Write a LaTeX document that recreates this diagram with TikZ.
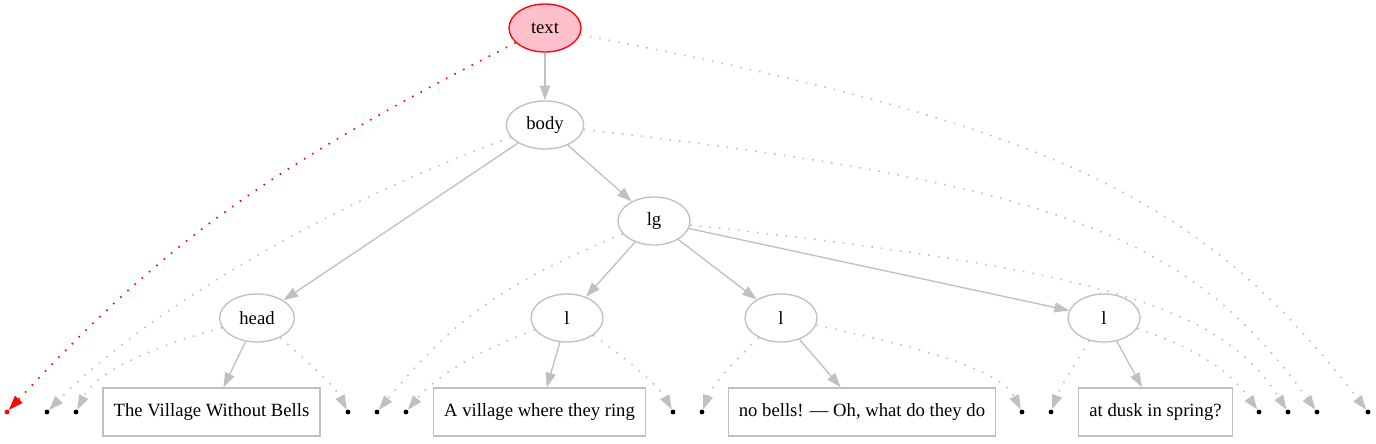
\documentclass[tikz,border=0pt]{standalone}
\usepackage{fontspec}
\setmainfont{Liberation Serif}
\usetikzlibrary{arrows.meta,shapes.geometric}
\definecolor{silver}{HTML}{C0C0C0}
\definecolor{rosy}{HTML}{FFC0CB}
\begin{document}
\begin{tikzpicture}[x=0.75pt, y=-0.75pt,
    every node/.style={font=\fontsize{14}{16}\selectfont},
    elem/.style={ellipse, draw=silver, line width=1pt, minimum width=54pt, minimum height=36pt, inner sep=0pt},
    leaf/.style={rectangle, draw=silver, line width=1pt, minimum height=36pt, inner xsep=8pt},
    spot/.style={circle, fill=black, inner sep=0pt, minimum size=3.6pt},
    branch/.style={draw=silver, line width=1pt, -{Triangle[length=11pt, width=7.5pt]}},
    extent/.style={branch, line width=1.2pt, dash pattern=on 1.2pt off 6pt}]
    \useasboundingbox (0, 0) rectangle (1376, 443);
    \node[elem, fill=rosy, draw=red] (text) at (545, 28) {text};
    \node[elem, minimum width=58pt] (body) at (545, 125) {body};
    \node[elem] (lg) at (654, 221) {lg};
    \node[elem, minimum width=56pt] (head) at (257, 318) {head};
    \node[elem] (la) at (567, 318) {l};
    \node[elem] (lb) at (781, 318) {l};
    \node[elem] (lc) at (1104, 318) {l};
    \node[leaf] (ta) at (211.5, 412) {The Village Without Bells};
    \node[leaf] (tb) at (539.5, 412) {A village where they ring};
    \node[leaf] (tc) at (862, 412) {no bells! — Oh, what do they do};
    \node[leaf] (td) at (1155.5, 412) {at dusk in spring?};
    \node[spot, fill=red] (p1) at (7, 412) {};
    \foreach \n/\x in {2/47, 3/76, 4/348, 5/377, 6/406, 7/673, 8/702, 9/1022, 10/1051, 11/1259, 12/1288, 13/1317, 14/1368}
        \node[spot] (p\n) at (\x, 412) {};
    \draw[branch] (text) -- (body);
    \draw[branch] (body) -- (head);
    \draw[branch] (body) -- (lg);
    \draw[branch] (lg) -- (la);
    \draw[branch] (lg) -- (lb);
    \draw[branch] (lg) -- (lc);
    \draw[branch] (head) -- (ta);
    \draw[branch] (la) -- (tb);
    \draw[branch] (lb) -- (tc);
    \draw[branch] (lc) -- (td);
    \draw[extent, draw=red] (text) .. controls (268, 168) and (166, 241) .. (p1);
    \draw[extent] (text) .. controls (1060, 126) and (1204, 200) .. (p14);
    \draw[extent] (body) .. controls (332, 202) and (147, 310) .. (p2);
    \draw[extent] (body) .. controls (1060, 184) and (1190, 236) .. (p13);
    \draw[extent] (lg) .. controls (502, 284) and (455, 318) .. (p5);
    \draw[extent] (lg) .. controls (1103, 270) and (1222, 307) .. (p12);
    \draw[extent] (head) .. controls (138, 351) and (95, 375) .. (p3);
    \draw[extent] (head) .. controls (304, 358) and (334, 385) .. (p4);
    \draw[extent] (la) .. controls (475, 352) and (435, 377) .. (p6);
    \draw[extent] (la) .. controls (627, 358) and (660, 388) .. (p7);
    \draw[extent] (lb) .. controls (740, 355) and (712, 385) .. (p8);
    \draw[extent] (lb) .. controls (954, 354) and (1004, 376) .. (p9);
    \draw[extent] (lc) .. controls (1078, 358) and (1060, 388) .. (p10);
    \draw[extent] (lc) .. controls (1194, 347) and (1229, 370) .. (p11);
\end{tikzpicture}
\end{document}
